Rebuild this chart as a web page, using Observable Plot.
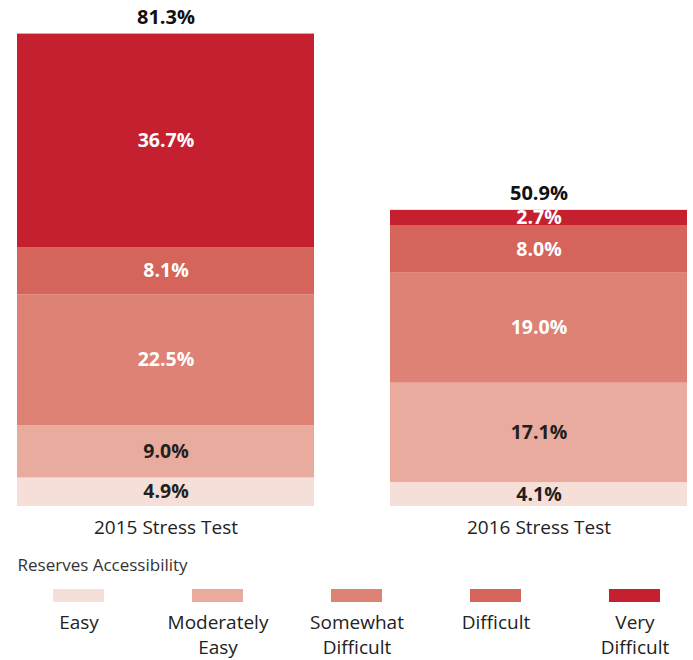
<!DOCTYPE html>
<html>
<head>
<meta charset="utf-8">
<script src="https://cdn.jsdelivr.net/npm/d3@7"></script>
<script src="https://cdn.jsdelivr.net/npm/@observablehq/plot@0.6"></script>
<style>
  html, body { margin: 0; padding: 0; background: #fff; }
  #chart { width: 693px; }
  svg { display: block; }
</style>
</head>
<body>
<div id="chart"></div>
<script>
const tests = ["2015 Stress Test", "2016 Stress Test"];
const categories = ["Easy", "Moderately Easy", "Somewhat Difficult", "Difficult", "Very Difficult"];
const colors = ["#f6dfd8", "#e9ab9d", "#dd8274", "#d5645a", "#c4202f"];
const values2015 = [4.9, 9.0, 22.5, 8.1, 36.7];
const values2016 = [4.1, 17.1, 19.0, 8.0, 2.7];
const totals = [81.3, 50.9];
const darkLabels = ["Easy", "Moderately Easy"];
const legendTitle = "Reserves Accessibility";

const seriesByTest = [values2015, values2016];
const data = [];
tests.forEach((t, i) => categories.forEach((c, j) => data.push({test: t, cat: c, value: seriesByTest[i][j]})));
const totalData = tests.map((t, i) => ({test: t, total: totals[i]}));

const fmt = v => v.toFixed(1) + "%";
const font = "'Open Sans', sans-serif";

const main = Plot.plot({
  width: 693,
  height: 545,
  marginTop: 33,
  marginBottom: 39,
  marginLeft: 16,
  marginRight: 5,
  style: {fontFamily: font, background: "#fff"},
  x: {domain: tests, paddingInner: 0.2032, paddingOuter: 0, label: null},
  y: {domain: [0, d3.max(totals)], axis: null},
  color: {domain: categories, range: colors, legend: false},
  marks: [
    Plot.barY(data, {x: "test", y: "value", fill: "cat"}),
    Plot.text(data, Plot.stackY({x: "test", y: "value",
      text: d => darkLabels.includes(d.cat) ? fmt(d.value) : "",
      fill: "#231f20", fontWeight: 700, fontSize: 19.5})),
    Plot.text(data, Plot.stackY({x: "test", y: "value",
      text: d => darkLabels.includes(d.cat) ? "" : fmt(d.value),
      fill: "#ffffff", fontWeight: 700, fontSize: 19.5})),
    Plot.text(totalData, {x: "test", y: "total", text: d => fmt(d.total),
      lineAnchor: "bottom", dy: -10, fill: "#111", fontWeight: 700, fontSize: 20}),
    Plot.axisX({tickSize: 0, tickPadding: 14, fontSize: 19, fill: "#222", label: null})
  ]
});

const legend = Plot.plot({
  width: 693,
  height: 115,
  marginTop: 44,
  marginBottom: 58,
  marginLeft: 53,
  marginRight: 32,
  style: {fontFamily: font, background: "#fff"},
  x: {domain: categories, paddingInner: 0.633, paddingOuter: 0, axis: null},
  color: {domain: categories, range: colors, legend: false},
  marks: [
    Plot.cell(categories, {x: d => d, fill: d => d}),
    Plot.text(categories, {x: d => d, text: d => d.replace(" ", "\n"),
      frameAnchor: "bottom", lineAnchor: "top", dy: 8, lineHeight: 1.34,
      fontSize: 19, fill: "#222"}),
    Plot.text([legendTitle], {text: d => d, frameAnchor: "top-left", textAnchor: "start",
      lineAnchor: "top", dx: -36, dy: -31, fontSize: 17, fill: "#333"})
  ]
});

const chart = document.getElementById("chart");
chart.appendChild(main);
chart.appendChild(legend);
</script>
</body>
</html>
